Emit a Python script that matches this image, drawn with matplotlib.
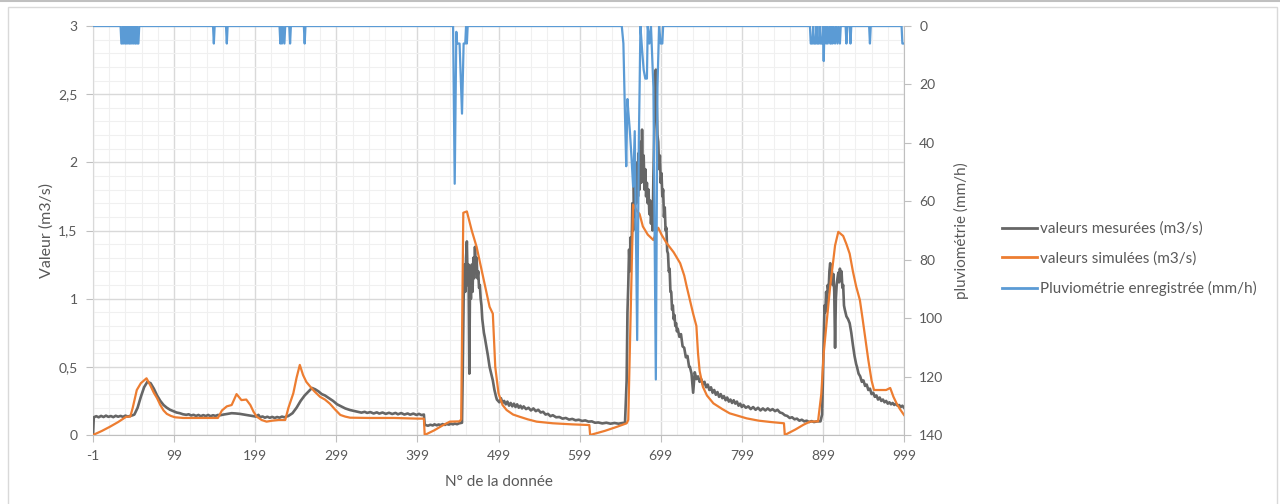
import numpy as np
import matplotlib
matplotlib.use("Agg")
import matplotlib.pyplot as plt
from matplotlib.ticker import FuncFormatter, MultipleLocator
from matplotlib.patches import Rectangle
from matplotlib.lines import Line2D

plt.rcParams['font.family'] = ['Lato', 'DejaVu Sans']

# ---------------- data ----------------
mes_x = [-1, 0, 3, 6, 9, 12, 15, 18, 21, 24, 27, 30, 33, 36, 39, 42, 45, 48, 50, 54, 58, 62, 66, 70,
         74, 78, 82, 86, 90, 94, 98, 102, 106, 110, 114, 117, 120, 123, 126, 129, 132, 135, 138, 141,
         144, 147, 150, 153, 156, 160, 165, 170, 175, 180, 185, 190, 195, 200, 203, 205, 208, 211, 214,
         217, 220, 223, 226, 229, 232, 235, 240, 245, 250, 255, 260, 265, 269, 273, 277, 281, 285, 290,
         295, 300, 305, 310, 316, 322, 326, 330, 334, 337, 341, 345, 349, 352, 356, 360, 364, 368, 372,
         375, 379, 383, 387, 390, 394, 398, 401, 404, 407, 408, 412, 415, 418, 420, 423, 425, 428, 430,
         433, 435, 438, 440, 443, 445, 448, 450, 454,
         455, 456, 457, 458, 459, 460, 461, 462, 463, 464, 465, 466, 467, 468, 469, 470, 471, 472, 473,
         474, 475, 476, 477, 478, 479, 480, 481, 482, 484, 486, 488, 490, 492, 494, 496,
         497, 500, 502, 504, 506, 508, 510, 512, 514, 516, 518, 520, 522, 524, 526, 528, 530, 533, 536,
         539, 542, 545, 548, 551, 554, 557, 560, 563, 566, 570, 574, 578, 582, 586, 590, 594, 598, 602,
         606, 610, 614, 618, 622, 627, 632, 637, 642, 647, 652, 655,
         657, 658, 659, 660, 661, 662, 663, 664, 665, 666, 667, 668, 669, 670, 671, 672, 673, 674, 675,
         676, 677, 678, 679, 680, 681, 682, 683, 684, 685, 686, 687, 688, 689, 690, 691, 692, 693, 694,
         695, 696, 697, 698, 699, 700, 701, 702, 703, 704, 705, 706, 707, 708, 709, 710, 711, 712, 713,
         714, 715, 716, 717, 718, 719, 720, 722, 724, 726, 728, 730, 732, 734,
         735, 737, 739, 741, 743, 745, 747, 749, 751, 753, 755, 757, 759, 761, 763, 765, 767, 769, 771,
         773, 775, 777, 779, 781, 783, 785, 787, 789, 791, 793, 795, 797, 799, 801, 804, 807, 810, 813,
         816, 819, 822, 825, 828, 831, 834, 837, 840, 843, 846, 849, 852, 855, 858, 861, 864, 867, 870,
         873, 876, 879, 882, 885, 888, 892, 896,
         898, 899, 900, 901, 902, 903, 904, 905, 906, 907, 908, 909, 910, 911, 912, 913, 914, 915, 916,
         917, 918, 919, 920, 921, 922, 923, 924, 925, 926, 928, 930, 932, 934, 936, 938, 940,
         941, 943, 945, 947, 949, 951, 953, 955, 957, 959, 961, 963, 965, 967, 969, 971, 973, 975, 977,
         979, 981, 983, 985, 987, 989, 991, 993, 995, 997, 999]
mes_v = [0.0, 0.13, 0.138, 0.13, 0.14, 0.132, 0.142, 0.133, 0.139, 0.131, 0.141, 0.134, 0.14, 0.133,
         0.142, 0.135, 0.14, 0.145, 0.15, 0.2, 0.28, 0.35, 0.39, 0.38, 0.34, 0.29, 0.25, 0.22, 0.2,
         0.185, 0.175, 0.165, 0.16, 0.152, 0.148, 0.152, 0.143, 0.148, 0.14, 0.147, 0.138, 0.146, 0.139,
         0.147, 0.138, 0.145, 0.14, 0.147, 0.145, 0.15, 0.155, 0.16, 0.158, 0.155, 0.15, 0.145, 0.14,
         0.135, 0.148, 0.13, 0.136, 0.127, 0.134, 0.126, 0.133, 0.125, 0.132, 0.127, 0.135, 0.13, 0.14,
         0.16, 0.2, 0.25, 0.29, 0.32, 0.345, 0.335, 0.32, 0.3, 0.29, 0.27, 0.25, 0.225, 0.21, 0.195,
         0.183, 0.175, 0.17, 0.164, 0.17, 0.162, 0.168, 0.158, 0.166, 0.157, 0.165, 0.155, 0.163, 0.154,
         0.162, 0.152, 0.161, 0.15, 0.158, 0.149, 0.157, 0.147, 0.155, 0.146, 0.15, 0.075, 0.068, 0.075,
         0.07, 0.078, 0.071, 0.077, 0.073, 0.08, 0.074, 0.081, 0.076, 0.083, 0.078, 0.084, 0.079, 0.085,
         0.09,
         0.5, 1.0, 1.25, 1.05, 1.3, 1.42, 1.1, 1.25, 0.45, 1.2, 1.0, 1.25, 1.05, 1.3, 1.15, 1.38, 1.2, 1.3,
         1.15, 1.2, 1.08, 1.1, 1.0, 0.95, 0.85, 0.8, 0.75, 0.72, 0.65, 0.58, 0.5, 0.45, 0.4, 0.33, 0.28,
         0.26, 0.24, 0.27, 0.235, 0.25, 0.225, 0.245, 0.215, 0.235, 0.21, 0.23, 0.205, 0.225, 0.2, 0.215,
         0.195, 0.21, 0.19, 0.2, 0.18, 0.195, 0.175, 0.185, 0.165, 0.17, 0.15, 0.155, 0.138, 0.145, 0.13,
         0.132, 0.12, 0.125, 0.113, 0.118, 0.108, 0.112, 0.103, 0.107, 0.098, 0.1, 0.09, 0.092, 0.085,
         0.09, 0.083, 0.088, 0.083, 0.088, 0.09,
         0.4, 0.9, 1.1, 1.36, 1.2, 1.45, 1.3, 1.7, 1.5, 1.82, 1.6, 1.95, 1.7, 2.0, 1.75, 2.07, 1.8, 2.15,
         1.85, 2.24, 1.9, 2.05, 1.8, 1.95, 1.75, 1.85, 1.7, 1.8, 1.62, 1.72, 1.55, 1.65, 1.5, 1.9, 2.2,
         2.5, 2.68, 2.45, 2.2, 2.15, 1.95, 2.05, 1.85, 1.92, 1.75, 1.8, 1.6, 1.67, 1.5, 1.52, 1.35, 1.33,
         1.2, 1.22, 1.05, 1.05, 0.92, 0.95, 0.85, 0.88, 0.8, 0.82, 0.76, 0.78, 0.72, 0.74, 0.65, 0.64,
         0.57, 0.58, 0.5,
         0.5, 0.45, 0.31, 0.46, 0.41, 0.43, 0.39, 0.41, 0.37, 0.39, 0.35, 0.37, 0.33, 0.35, 0.31, 0.33,
         0.295, 0.315, 0.28, 0.3, 0.27, 0.285, 0.255, 0.275, 0.245, 0.26, 0.235, 0.255, 0.23, 0.245,
         0.215, 0.23, 0.205, 0.22, 0.2, 0.21, 0.19, 0.205, 0.185, 0.2, 0.18, 0.195, 0.18, 0.195, 0.18,
         0.19, 0.175, 0.185, 0.165, 0.16, 0.145, 0.14, 0.125, 0.13, 0.115, 0.12, 0.105, 0.112, 0.1, 0.105,
         0.095, 0.102, 0.095, 0.1, 0.1,
         0.15, 0.4, 0.7, 0.95, 0.9, 1.05, 0.94, 1.1, 1.05, 1.2, 1.26, 1.12, 1.2, 1.1, 1.18, 1.05, 0.64, 1.0,
         1.1, 1.15, 1.19, 1.12, 1.22, 1.15, 1.2, 1.08, 1.1, 0.95, 0.92, 0.87, 0.85, 0.82, 0.75, 0.66,
         0.58, 0.52,
         0.5, 0.45, 0.43, 0.39, 0.4, 0.36, 0.37, 0.33, 0.34, 0.3, 0.31, 0.28, 0.29, 0.26, 0.275, 0.25,
         0.26, 0.24, 0.25, 0.23, 0.24, 0.225, 0.235, 0.22, 0.23, 0.215, 0.22, 0.205, 0.215, 0.2]

sim_x = [-1, 10, 20, 30, 40, 45, 48, 53, 58, 65, 70, 74, 78, 82, 86, 90, 95, 100, 110, 130, 153, 158,
         164, 170, 176, 180, 182, 188, 193, 197, 201, 207, 213, 220, 228, 236, 240, 246, 250, 254, 258,
         262, 267, 272, 279, 285, 291, 297, 304, 310, 316, 340, 370, 400, 407, 408, 420, 430, 439, 451,
         453, 455.6, 460, 466, 472, 480, 488, 492, 495, 499, 504, 509, 517, 525, 535, 546, 566, 590, 611,
         612, 630, 645, 657, 659, 662, 665, 669, 673, 677, 683, 690, 693, 696, 700, 706, 715, 723, 728,
         731, 735, 739, 743, 745, 747, 751, 756, 764, 775, 784, 795, 805, 820, 835, 851, 852, 865, 875,
         883, 893, 897, 900, 904, 908, 914, 918, 924, 928, 932, 936, 940, 944.6, 948, 951, 955, 959, 962,
         970, 977, 982, 986, 990, 994, 999]
sim_v = [0.0, 0.03, 0.061, 0.095, 0.134, 0.135, 0.2, 0.33, 0.38, 0.416, 0.36, 0.31, 0.27, 0.22, 0.18,
         0.155, 0.14, 0.13, 0.125, 0.125, 0.125, 0.18, 0.21, 0.22, 0.30, 0.27, 0.256, 0.26, 0.22, 0.17,
         0.134, 0.11, 0.098, 0.105, 0.11, 0.11, 0.2, 0.306, 0.42, 0.514, 0.44, 0.39, 0.354, 0.32, 0.28,
         0.26, 0.23, 0.19, 0.147, 0.135, 0.127, 0.125, 0.125, 0.12, 0.12, 0.0, 0.035, 0.07, 0.098, 0.1,
         0.115, 1.63, 1.64, 1.5, 1.38, 1.16, 0.94, 0.89, 0.5, 0.306, 0.22, 0.183, 0.15, 0.134, 0.115,
         0.098, 0.086, 0.078, 0.073, 0.0, 0.03, 0.06, 0.086, 0.11, 0.9, 1.69, 1.65, 1.62, 1.53, 1.47, 1.43,
         1.48, 1.52, 1.47, 1.41, 1.34, 1.26, 1.17, 1.09, 0.99, 0.89, 0.8, 0.6, 0.47, 0.354, 0.29, 0.232,
         0.19, 0.159, 0.14, 0.122, 0.105, 0.095, 0.086, 0.0, 0.04, 0.075, 0.098, 0.1, 0.3, 0.6, 0.85,
         1.09, 1.39, 1.49, 1.46, 1.4, 1.33, 1.2, 1.09, 0.99, 0.85, 0.72, 0.55, 0.4, 0.33, 0.33, 0.33,
         0.345, 0.28, 0.23, 0.19, 0.147]

pluie_x = [-1, 33, 34, 35, 36, 37, 38, 39, 40, 41, 42, 43, 44, 45, 46, 47, 48, 49, 50, 51, 52, 53, 54,
           55, 56, 147, 148, 149, 163, 164, 165, 229, 230, 231, 232, 233, 235, 236, 241, 242, 243, 259,
           260, 261, 441, 443, 445, 447, 448, 451, 454, 456, 458, 459, 460, 461, 651, 653, 655, 656.5,
           658, 659, 661, 663, 665, 667, 670, 672, 673, 674, 676, 678, 680, 682, 683, 685, 687, 688, 690,
           693, 695, 697, 699, 701, 702, 883, 884, 886, 887, 888, 890, 891, 892, 894, 895, 896, 898, 899,
           900, 901, 903, 904, 905, 907, 908, 909, 910, 911, 912, 914, 915, 917, 918, 920, 921, 927, 928,
           929, 932, 933, 934, 956, 957, 958, 996, 997, 999]
pluie_v = [0, 0, 6, 6, 0, 6, 0, 6, 6, 0, 6, 0, 6, 6, 0, 6, 0, 6, 0, 6, 6, 0, 6, 6, 0, 0, 6, 0, 0, 6, 0,
           0, 6, 0, 6, 0, 6, 0, 0, 6, 0, 0, 6, 0, 0, 0, 54, 2, 6, 6, 30, 6, 6, 0, 6, 0, 0, 6, 31, 48, 25,
           29, 36, 45, 55, 36, 107.5, 40, 21, 0, 8, 15, 18, 18, 0, 6, 0, 7, 21, 121, 21, 0, 6, 6, 0, 0, 6,
           6, 0, 6, 6, 0, 6, 6, 0, 6, 6, 0, 12, 0, 6, 0, 6, 0, 6, 6, 0, 6, 0, 6, 0, 6, 0, 6, 0, 0, 6, 0, 0,
           6, 0, 0, 6, 0, 0, 6, 6]

x_ticks = [-1, 99, 199, 299, 399, 499, 599, 699, 799, 899, 999]
y_ticks = [0, 0.5, 1, 1.5, 2, 2.5, 3]
y2_ticks = [0, 20, 40, 60, 80, 100, 120, 140]

labels = ["valeurs mesurées (m3/s)", "valeurs simulées (m3/s)", "Pluviométrie enregistrée (mm/h)"]

# ---------------- figure ----------------
W, H = 1280, 504
fig = plt.figure(figsize=(W / 100, H / 100), dpi=100)
L, R, T, B = 93, 904, 26, 435
ax = fig.add_axes([L / W, 1 - B / H, (R - L) / W, (B - T) / H])

TXT = '#595959'
GRID = '#d9d9d9'
GRIDMIN = '#f0f0f0'

# outer frame
fig.add_artist(Line2D([0, 1], [1 - 1 / H, 1 - 1 / H], transform=fig.transFigure, color='#c0c0c0', lw=1.5))
fig.add_artist(Rectangle((8 / W, -0.1), (1277 - 8) / W, 1 - 7 / H + 0.1, transform=fig.transFigure,
                         fill=False, edgecolor='#d9d9d9', lw=1))

c_mes = '#666666'
c_sim = '#ED7D31'
c_rain = '#5B9BD5'

l1, = ax.plot(mes_x, mes_v, color=c_mes, lw=1.9, zorder=3, label=labels[0])
l2, = ax.plot(sim_x, sim_v, color=c_sim, lw=1.6, zorder=4, label=labels[1])

ax.set_xlim(-1, 999)
ax.set_ylim(0, 3)
ax.set_xticks(x_ticks)
ax.set_xticklabels([str(v) for v in x_ticks])
ax.xaxis.set_minor_locator(MultipleLocator(20, offset=-1))
ax.set_yticks(y_ticks)
ax.yaxis.set_minor_locator(MultipleLocator(0.1))
ax.yaxis.set_major_formatter(FuncFormatter(lambda v, p: ('%g' % v).replace('.', ',')))
ax.grid(which='major', color=GRID, lw=1, zorder=0)
ax.grid(which='minor', color=GRIDMIN, lw=0.8, zorder=0)
ax.set_axisbelow(True)
ax.tick_params(which='major', length=5, color='#bfbfbf', labelcolor=TXT, labelsize=10)
ax.tick_params(which='minor', length=0)
ax.tick_params(axis='y', pad=6)
ax.tick_params(axis='x', pad=6)
for s in ['top', 'right']:
    ax.spines[s].set_visible(False)
ax.spines['left'].set_color(GRID)
ax.spines['bottom'].set_color('#bfbfbf')

ax.set_xlabel("N° de la donnée", color=TXT, fontsize=11, labelpad=9)
ax.set_ylabel("Valeur (m3/s)", color=TXT, fontsize=11.5, labelpad=3.5)

ax2 = ax.twinx()
l3, = ax2.plot(pluie_x, pluie_v, color=c_rain, lw=1.6, zorder=5, label=labels[2])
ax2.set_ylim(140, 0)
ax2.set_yticks(y2_ticks)
ax2.tick_params(length=5, color='#bfbfbf', labelcolor=TXT, labelsize=10, pad=6)
for s in ['top', 'left', 'bottom']:
    ax2.spines[s].set_visible(False)
ax2.spines['right'].set_color('#bfbfbf')
ax2.set_ylabel("pluviométrie (mm/h)", color=TXT, fontsize=11, labelpad=7.5)

leg = fig.legend(handles=[l1, l2, l3], labels=labels, loc='center left',
                 bbox_to_anchor=(1002 / W, 1 - 259 / H), frameon=False, fontsize=11,
                 handlelength=2.3, handletextpad=0.2, labelspacing=1.0, borderpad=0,
                 borderaxespad=0, labelcolor=TXT)
for h in leg.legend_handles:
    h.set_linewidth(2.0)

fig.savefig('out.png', dpi=100)
